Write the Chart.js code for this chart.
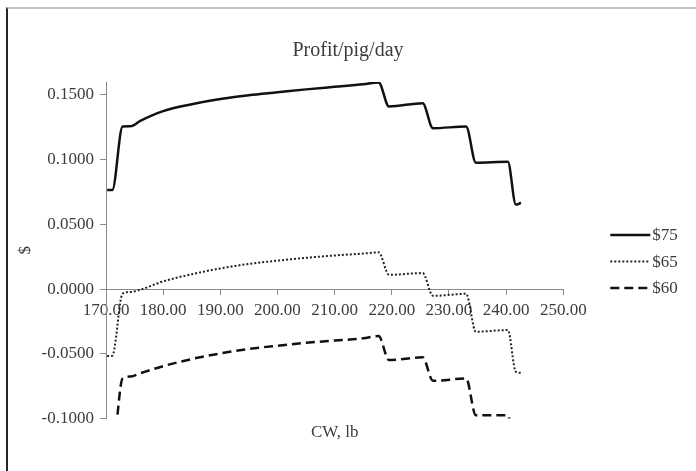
<!DOCTYPE html>
<html>
<head>
<meta charset="utf-8">
<script src="https://cdn.jsdelivr.net/npm/chart.js@4.4.1/dist/chart.umd.min.js"></script>
<style>
  body { margin: 0; background: #fff; }
  #wrap { position: relative; width: 696px; height: 471px; }
  #frame { position: absolute; left: 6px; top: 7px; right: -4px; bottom: -4px; border-left: 2px solid #262626; border-top: 2px solid #c4c4c4; pointer-events: none; }
</style>
</head>
<body>
<div id="wrap">
  <canvas id="myChart" width="696" height="471"></canvas>
  <div id="frame"></div>
</div>
<script>
// carcass weight, lb (shared x values)
const cwLb = [170.2, 171.1, 172.9, 174.3, 176, 180, 185, 190, 195, 200, 205, 210, 215, 217.7,
  219.5, 225.4, 227.2, 233, 234.7, 240.3, 241.7, 242.6];

// profit per pig per day, $
const profit75 = [0.0765, 0.0765, 0.1256, 0.1258, 0.1300, 0.1375, 0.1428, 0.1468, 0.1497, 0.1520,
  0.1543, 0.1563, 0.1583, 0.1597, 0.1411, 0.1436, 0.1243, 0.1256, 0.0977, 0.0984, 0.0653, 0.0667];
const profit65 = [-0.0517, -0.0515, -0.0035, -0.0022, -0.0005, 0.0060, 0.0115, 0.0160, 0.0195, 0.0220,
  0.0242, 0.0260, 0.0275, 0.0284, 0.0111, 0.0124, -0.0052, -0.0036, -0.0329, -0.0316, -0.0639, -0.0646];
const profit60 = [-0.125, -0.125, -0.0690, -0.0675, -0.0650, -0.0595, -0.0540, -0.0497, -0.0462, -0.0437,
  -0.0415, -0.0397, -0.0380, -0.0362, -0.0548, -0.0527, -0.0708, -0.0690, -0.0974, -0.0974, -0.130, -0.130];

const seriesNames = ["$75", "$65", "$60"];
const yTicks = [-0.1, -0.05, 0, 0.05, 0.1, 0.15];
const chartTitle = "Profit/pig/day";
const xTitle = "CW, lb";
const yTitle = "$";

const toPoints = (ys) => ys.map((y, i) => ({ x: cwLb[i], y: y }));

const FONT = "'Liberation Serif', 'Times New Roman', serif";
const TEXT = "#3c3c3c";
const AXIS = "#8a8a8a";

// legend drawn to the right of the plot, line sample + label
const sideLegend = {
  id: "sideLegend",
  afterDraw(chart) {
    const { ctx, chartArea } = chart;
    const x0 = chartArea.right + 47;
    let y = chartArea.top + 153;
    ctx.save();
    ctx.font = "17px " + FONT;
    ctx.textBaseline = "middle";
    chart.data.datasets.forEach((ds) => {
      ctx.beginPath();
      ctx.setLineDash(ds.borderDash || []);
      ctx.lineWidth = ds.borderWidth;
      ctx.strokeStyle = ds.borderColor;
      ctx.moveTo(x0, y);
      ctx.lineTo(x0 + 40, y);
      ctx.stroke();
      ctx.fillStyle = TEXT;
      ctx.fillText(ds.label, x0 + 42, y + 1);
      y += 26.5;
    });
    ctx.restore();
  },
};

const ctx = document.getElementById("myChart").getContext("2d");
const myChart = new Chart(ctx, {
  type: "line",
  data: {
    datasets: [
      {
        label: seriesNames[0],
        data: toPoints(profit75),
        borderColor: "#111",
        borderWidth: 2.5,
        borderDash: [],
      },
      {
        label: seriesNames[1],
        data: toPoints(profit65),
        borderColor: "#222",
        borderWidth: 2,
        borderDash: [2, 2],
      },
      {
        label: seriesNames[2],
        data: toPoints(profit60),
        borderColor: "#111",
        borderWidth: 2.5,
        borderDash: [9, 5],
      },
    ],
  },
  options: {
    responsive: false,
    animation: false,
    parsing: false,
    elements: {
      point: { radius: 0 },
      line: { cubicInterpolationMode: "monotone", fill: false },
    },
    layout: { padding: { top: 29, left: 8, right: 8, bottom: 28 } },
    scales: {
      x: {
        type: "linear",
        min: 170,
        max: 250,
        position: { y: 0 },
        ticks: {
          stepSize: 10,
          padding: 6,
          maxRotation: 0,
          color: TEXT,
          font: { family: FONT, size: 17 },
          callback: (v) => v.toFixed(2),
        },
        grid: { drawOnChartArea: false, drawTicks: true, tickLength: 5, color: AXIS },
        border: { color: AXIS, width: 1 },
      },
      y: {
        type: "linear",
        min: -0.1,
        max: 0.16,
        ticks: {
          padding: 6,
          color: TEXT,
          font: { family: FONT, size: 17 },
          callback: (v) => v.toFixed(4),
        },
        afterBuildTicks: (axis) => {
          // labels only on the 0.05 steps, axis still runs to 0.16
          axis.ticks = yTicks.map((v) => ({ value: v }));
        },
        afterFit: (axis) => {
          axis.width = 98;
        },
        title: {
          display: true,
          text: yTitle,
          color: TEXT,
          font: { family: FONT, size: 17 },
          padding: { top: 7, bottom: 0 },
        },
        grid: { drawOnChartArea: false, drawTicks: true, tickLength: 6, color: AXIS },
        border: { color: AXIS, width: 1 },
      },
      // empty right-hand space for the legend
      yRight: {
        position: "right",
        display: true,
        ticks: { display: false },
        grid: { display: false },
        border: { display: false },
        afterFit: (axis) => {
          axis.width = 124.7;
        },
      },
    },
    plugins: {
      legend: { display: false },
      tooltip: { enabled: false },
      title: {
        display: true,
        text: chartTitle,
        color: TEXT,
        font: { family: FONT, size: 20, weight: "normal" },
        padding: { top: 10, bottom: 19 },
      },
      subtitle: {
        display: true,
        position: "bottom",
        fullSize: false,
        text: xTitle,
        color: TEXT,
        font: { family: FONT, size: 17, weight: "normal" },
        padding: { top: 4, bottom: 0 },
      },
    },
  },
  plugins: [sideLegend],
});
</script>
</body>
</html>
